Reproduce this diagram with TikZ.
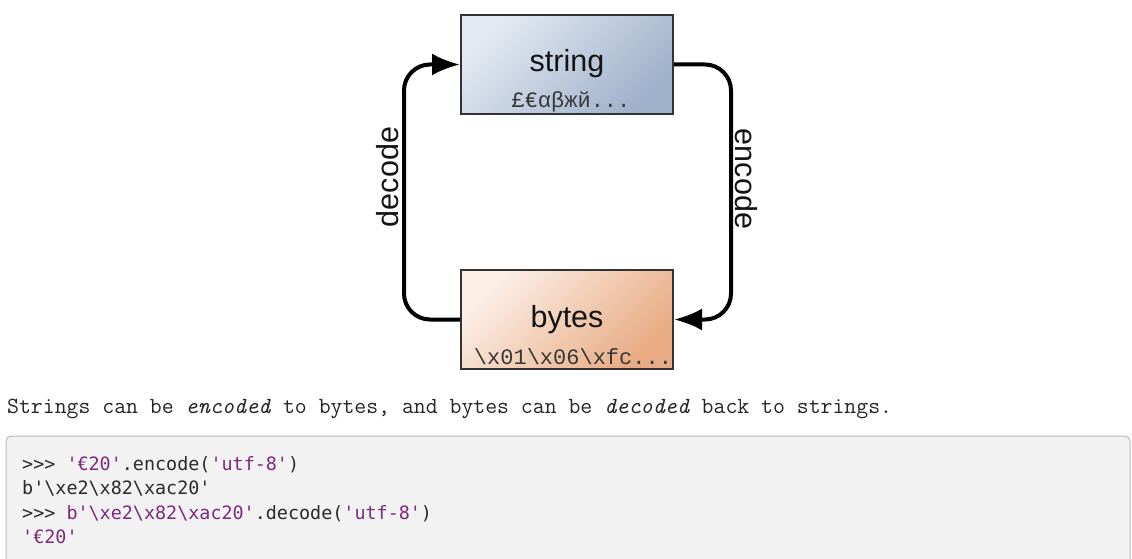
\documentclass[tikz,border=0pt]{standalone}
\usepackage{fontspec}
\usepackage{xcolor}
\definecolor{StringLight}{HTML}{E3E9F1}
\definecolor{StringDark}{HTML}{9FB1CB}
\definecolor{BytesLight}{HTML}{FBEFE6}
\definecolor{BytesDark}{HTML}{E8AB83}
\definecolor{BoxEdge}{HTML}{333333}
\definecolor{CodeGray}{HTML}{F2F2F2}
\definecolor{CodeEdge}{HTML}{BBBBBB}
\definecolor{CodePurple}{HTML}{7D2A7D}
\definecolor{TextGray}{HTML}{2A2A2A}
\newfontfamily\diafont{Liberation Sans}
\newfontfamily\glyphfont{Liberation Mono}[Ligatures=TeXOff]
\newfontfamily\codefont{DejaVu Sans Mono}[Ligatures=TeXOff]
\newcommand\bsl{\textbackslash}
\usetikzlibrary{arrows.meta, positioning}

\begin{document}
\begin{tikzpicture}[x=1pt, y=-1pt,
    box/.style={draw=BoxEdge, line width=2pt, minimum width=212pt, minimum height=99pt, inner sep=0pt},
    stringbox/.style={box, top color=StringLight, bottom color=StringDark, shading angle=45},
    bytesbox/.style={box, top color=BytesLight, bottom color=BytesDark, shading angle=45},
    title/.style={font=\diafont\fontsize{30.5}{30}\selectfont, text=black!92, inner sep=0pt},
    sample/.style={font=\glyphfont\fontsize{22}{22}\selectfont, text=black!78, inner sep=0pt},
    flow/.style={line width=4pt, rounded corners=26pt, -{Latex[length=28pt, width=22pt]}},
    codebox/.style={fill=CodeGray, draw=CodeEdge, line width=1pt, rounded corners=5pt},
    code/.style={font=\codefont\fontsize{18.4}{18.4}\selectfont, text=TextGray, anchor=base west, inner sep=0pt}]
    \useasboundingbox (0, 0) rectangle (1132, 559);
    \node[stringbox] (str) at (567, 64.5) {};
    \node[title] (strName) at ([yshift=1pt]str.center) {string};
    \node[sample] (strSample) at ([xshift=4pt, yshift=13pt]str.south) {£€αβжй...};
    \node[bytesbox] (byt) at (567, 319.5) {};
    \node[title] (bytName) at (byt.center) {bytes};
    \node[sample] (bytSample) at ([xshift=6pt, yshift=13pt]byt.south) {\bsl x01\bsl x06\bsl xfc...};
    \draw[flow] (byt.west) -- ++(-56, 0) |- (str.west);
    \draw[flow] (str.east) -- ++(57, 0) |- (byt.east);
    \node[title, rotate=90] (dec) at (388, 177) {decode};
    \node[title, rotate=-90] (enc) at (746, 179) {encode};
    \node[anchor=base west, font=\ttfamily\fontsize{23.1}{24}\selectfont, text=black!85, inner sep=0pt] (caption) at (7, 413) {Strings can be \textit{encoded} to bytes, and bytes can be \textit{decoded} back to strings.};
    \draw[codebox] (6, 436) rectangle (1130, 580);
    \node[code] (line1) at (22, 470) {>>> \textcolor{CodePurple}{'€20'}.encode(\textcolor{CodePurple}{'utf-8'})};
    \node[code] (line2) at (22, 494.5) {b'\bsl xe2\bsl x82\bsl xac20'};
    \node[code] (line3) at (22, 519) {>>> \textcolor{CodePurple}{b'\bsl xe2\bsl x82\bsl xac20'}.decode(\textcolor{CodePurple}{'utf-8'})};
    \node[code] (line4) at (22, 543.5) {\textcolor{CodePurple}{'€20'}};
\end{tikzpicture}
\end{document}
